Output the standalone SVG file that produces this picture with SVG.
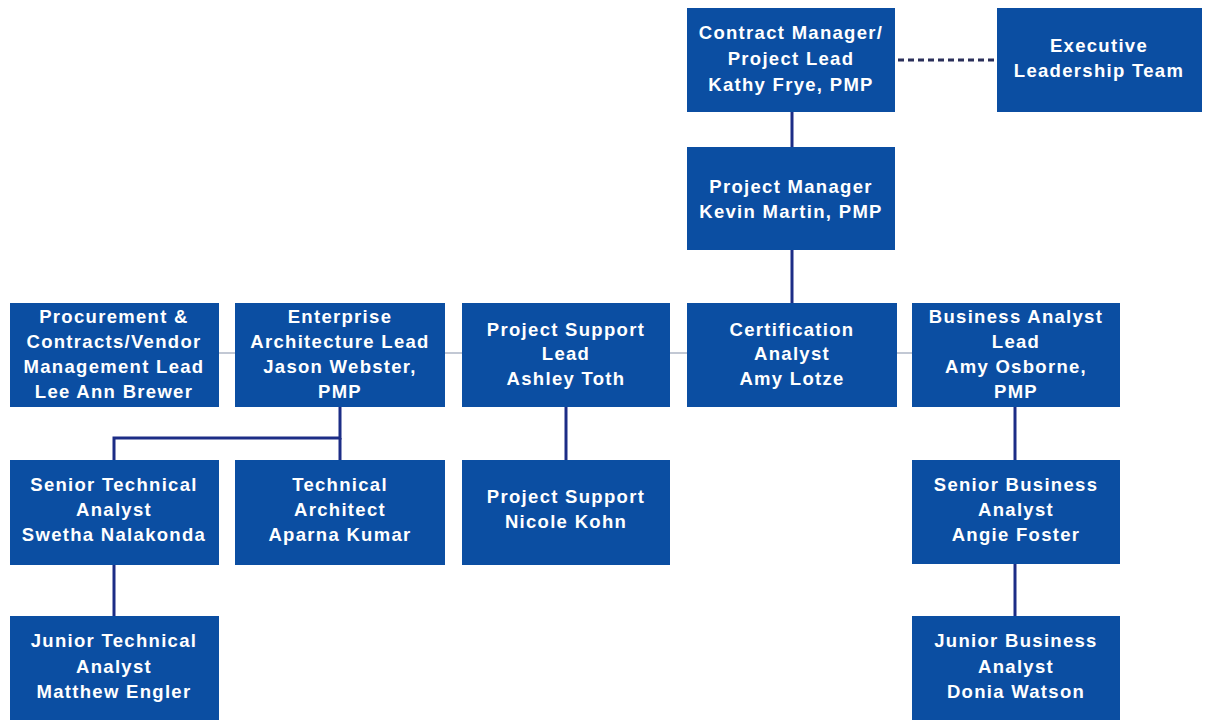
<svg xmlns="http://www.w3.org/2000/svg" width="1206" height="722" viewBox="0 0 1206 722">
  <style>
    .box { fill: #0b4ea2; }
    .lbl { font-family: "Liberation Sans", Arial, sans-serif; font-weight: bold; font-size: 18.5px; fill: #ffffff; text-anchor: middle; letter-spacing: 1.3px; }
    .link { stroke: #1c2d86; stroke-width: 3; fill: none; }
    .thin { stroke: #9aa3b8; stroke-width: 1.2; fill: none; }
    .dash { stroke: #2a2f5a; stroke-width: 3; stroke-dasharray: 6 4; fill: none; }
  </style>
  <rect width="1206" height="722" fill="#ffffff"/>

  <!-- connectors -->
  <g id="connectors">
    <line class="dash" x1="898" y1="60" x2="997" y2="60"/>
    <line class="link" x1="792" y1="112" x2="792" y2="147"/>
    <line class="link" x1="792" y1="250" x2="792" y2="303"/>
    <line class="thin" x1="219" y1="353" x2="235" y2="353"/>
    <line class="thin" x1="445" y1="353" x2="462" y2="353"/>
    <line class="thin" x1="670" y1="353" x2="687" y2="353"/>
    <line class="thin" x1="897" y1="353" x2="912" y2="353"/>
    <polyline class="link" points="340,407 340,438 114,438 114,460"/>
    <line class="link" x1="340" y1="438" x2="340" y2="460"/>
    <line class="link" x1="114" y1="565" x2="114" y2="616"/>
    <line class="link" x1="566" y1="407" x2="566" y2="460"/>
    <line class="link" x1="1015" y1="407" x2="1015" y2="460"/>
    <line class="link" x1="1015" y1="564" x2="1015" y2="616"/>
  </g>

  <g id="contract-manager">
    <rect class="box" x="687" y="8" width="208" height="104"/>
    <text class="lbl" x="791" y="39">Contract Manager/</text>
    <text class="lbl" x="791" y="65">Project Lead</text>
    <text class="lbl" x="791" y="91">Kathy Frye, PMP</text>
  </g>

  <g id="executive-team">
    <rect class="box" x="997" y="8" width="205" height="104"/>
    <text class="lbl" x="1099" y="52">Executive</text>
    <text class="lbl" x="1099" y="77">Leadership Team</text>
  </g>

  <g id="project-manager">
    <rect class="box" x="687" y="147" width="208" height="103"/>
    <text class="lbl" x="791" y="193">Project Manager</text>
    <text class="lbl" x="791" y="218">Kevin Martin, PMP</text>
  </g>

  <g id="procurement-lead">
    <rect class="box" x="10" y="303" width="209" height="104"/>
    <text class="lbl" x="114" y="323">Procurement &amp;</text>
    <text class="lbl" x="114" y="348">Contracts/Vendor</text>
    <text class="lbl" x="114" y="373">Management Lead</text>
    <text class="lbl" x="114" y="398">Lee Ann Brewer</text>
  </g>

  <g id="enterprise-architecture-lead">
    <rect class="box" x="235" y="303" width="210" height="104"/>
    <text class="lbl" x="340" y="323">Enterprise</text>
    <text class="lbl" x="340" y="348">Architecture Lead</text>
    <text class="lbl" x="340" y="373">Jason Webster,</text>
    <text class="lbl" x="340" y="398">PMP</text>
  </g>

  <g id="project-support-lead">
    <rect class="box" x="462" y="303" width="208" height="104"/>
    <text class="lbl" x="566" y="336">Project Support</text>
    <text class="lbl" x="566" y="360">Lead</text>
    <text class="lbl" x="566" y="385">Ashley Toth</text>
  </g>

  <g id="certification-analyst">
    <rect class="box" x="687" y="303" width="210" height="104"/>
    <text class="lbl" x="792" y="336">Certification</text>
    <text class="lbl" x="792" y="360">Analyst</text>
    <text class="lbl" x="792" y="385">Amy Lotze</text>
  </g>

  <g id="business-analyst-lead">
    <rect class="box" x="912" y="303" width="208" height="104"/>
    <text class="lbl" x="1016" y="323">Business Analyst</text>
    <text class="lbl" x="1016" y="348">Lead</text>
    <text class="lbl" x="1016" y="373">Amy Osborne,</text>
    <text class="lbl" x="1016" y="398">PMP</text>
  </g>

  <g id="senior-technical-analyst">
    <rect class="box" x="10" y="460" width="209" height="105"/>
    <text class="lbl" x="114" y="491">Senior Technical</text>
    <text class="lbl" x="114" y="516">Analyst</text>
    <text class="lbl" x="114" y="541">Swetha Nalakonda</text>
  </g>

  <g id="technical-architect">
    <rect class="box" x="235" y="460" width="210" height="105"/>
    <text class="lbl" x="340" y="491">Technical</text>
    <text class="lbl" x="340" y="516">Architect</text>
    <text class="lbl" x="340" y="541">Aparna Kumar</text>
  </g>

  <g id="project-support">
    <rect class="box" x="462" y="460" width="208" height="105"/>
    <text class="lbl" x="566" y="503">Project Support</text>
    <text class="lbl" x="566" y="528">Nicole Kohn</text>
  </g>

  <g id="senior-business-analyst">
    <rect class="box" x="912" y="460" width="208" height="104"/>
    <text class="lbl" x="1016" y="491">Senior Business</text>
    <text class="lbl" x="1016" y="516">Analyst</text>
    <text class="lbl" x="1016" y="541">Angie Foster</text>
  </g>

  <g id="junior-technical-analyst">
    <rect class="box" x="10" y="616" width="209" height="104"/>
    <text class="lbl" x="114" y="647">Junior Technical</text>
    <text class="lbl" x="114" y="673">Analyst</text>
    <text class="lbl" x="114" y="698">Matthew Engler</text>
  </g>

  <g id="junior-business-analyst">
    <rect class="box" x="912" y="616" width="208" height="104"/>
    <text class="lbl" x="1016" y="647">Junior Business</text>
    <text class="lbl" x="1016" y="673">Analyst</text>
    <text class="lbl" x="1016" y="698">Donia Watson</text>
  </g>
</svg>
